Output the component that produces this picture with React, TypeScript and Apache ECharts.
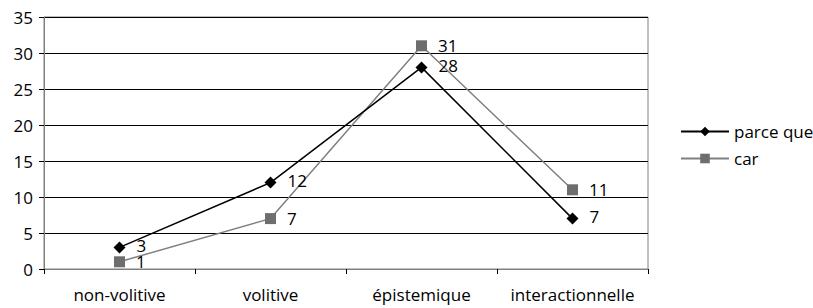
import React, { useEffect, useRef } from "react";
import * as echarts from "echarts";

const categories = ["non-volitive", "volitive", "épistemique", "interactionnelle"];
const parceQue = [3, 12, 28, 7];
const car = [1, 7, 31, 11];
const seriesNames = ["parce que", "car"];

const FONT = "Open Sans";
const FS = 17;

export default function App() {
  const ref = useRef<HTMLDivElement>(null);
  useEffect(() => {
    if (!ref.current) return;
    const chart = echarts.init(ref.current, undefined, { renderer: "svg" });
    chart.setOption({
      animation: false,
      backgroundColor: "#fff",
      textStyle: { fontFamily: FONT, color: "#000" },
      grid: { left: 44, right: 165, top: 17, bottom: 39, containLabel: false, show: true, borderColor: "#808080", borderWidth: 1, backgroundColor: "transparent" },
      legend: {
        orient: "vertical",
        left: 675,
        top: 118,
        itemWidth: 48,
        itemHeight: 12,
        itemGap: 10,
        textStyle: { fontFamily: FONT, fontSize: FS, color: "#000" },
        data: seriesNames,
      },
      xAxis: {
        type: "category",
        data: categories,
        boundaryGap: true,
        axisLine: { lineStyle: { color: "#808080", width: 1 } },
        axisTick: { show: true, length: 5, lineStyle: { color: "#000" } },
        axisLabel: { fontFamily: FONT, fontSize: FS, color: "#000", margin: 17, interval: 0 },
        splitLine: { show: false },
      },
      yAxis: {
        type: "value",
        min: 0,
        max: 35,
        interval: 5,
        axisLine: { show: true, lineStyle: { color: "#808080", width: 1 } },
        axisTick: { show: true, length: 5, lineStyle: { color: "#000" } },
        axisLabel: { fontFamily: FONT, fontSize: FS, color: "#000", margin: 11 },
        splitLine: { show: true, lineStyle: { color: "#000", width: 1 } },
      },
      series: [
        {
          name: seriesNames[0],
          type: "line",
          data: parceQue,
          symbol: "diamond",
          symbolSize: 12,
          itemStyle: { color: "#000" },
          lineStyle: { color: "#000", width: 1.5 },
          label: { show: true, position: "right", distance: 11, offset: [0, -2], fontFamily: FONT, fontSize: FS, color: "#000" },
          z: 3,
        },
        {
          name: seriesNames[1],
          type: "line",
          data: car,
          symbol: "rect",
          symbolSize: 11,
          itemStyle: { color: "#6e6e6e" },
          lineStyle: { color: "#808080", width: 1.5 },
          label: { show: true, position: "right", distance: 11, fontFamily: FONT, fontSize: FS, color: "#000" },
          z: 2,
        },
      ],
    });
    return () => chart.dispose();
  }, []);
  return <div ref={ref} style={{ position: "fixed", left: 0, top: 0, width: 813, height: 308 }} />;
}
